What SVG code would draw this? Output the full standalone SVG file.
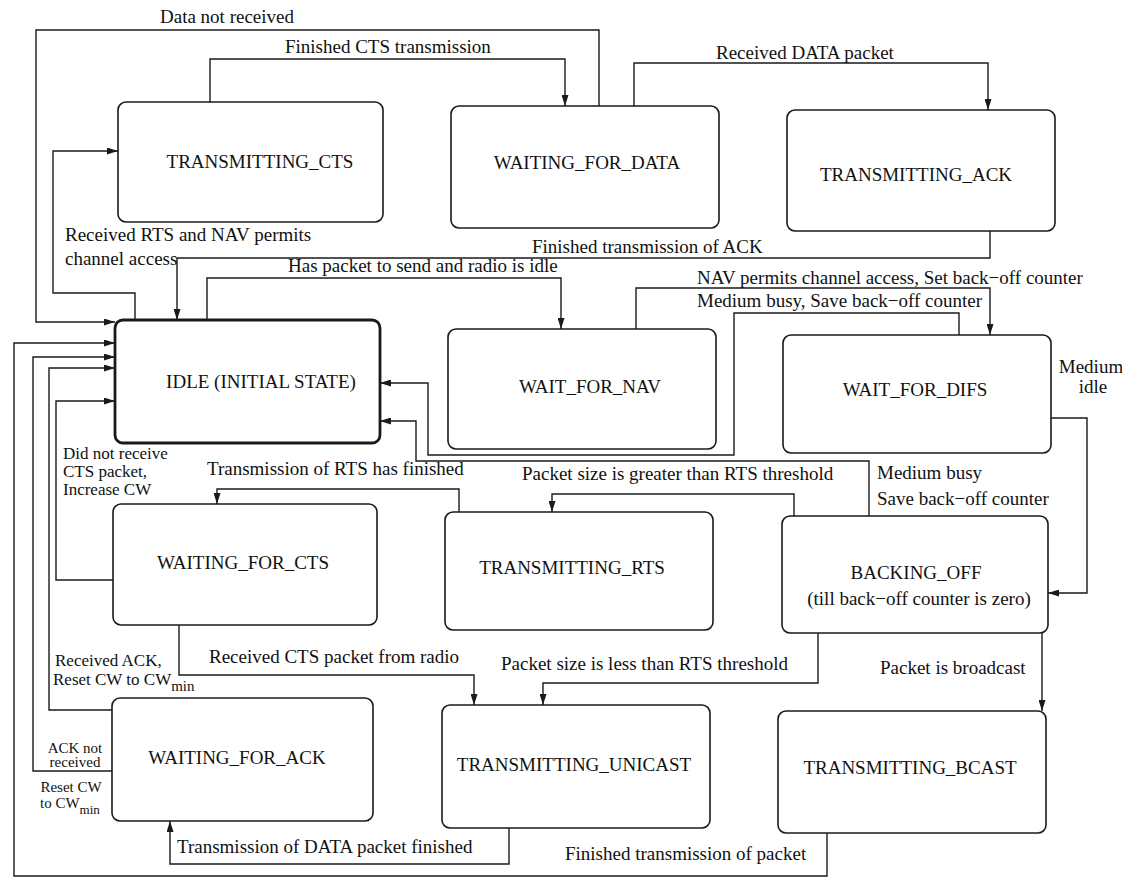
<svg xmlns="http://www.w3.org/2000/svg" width="1122" height="887" viewBox="0 0 1122 887">
<defs>
<marker id="ah" viewBox="0 0 11 7" refX="11" refY="3.5" markerWidth="11" markerHeight="7" orient="auto" markerUnits="userSpaceOnUse">
<path d="M0,0 L11,3.5 L0,7 z" fill="#1a1a1a"/>
</marker>
<style>
.box{fill:#fff;stroke:#1a1a1a;stroke-width:1.6}
.idle{fill:#fff;stroke:#1a1a1a;stroke-width:2.8}
.st{font-family:"Liberation Serif","Times New Roman",serif;font-size:19px;fill:#111;text-anchor:middle}
.lb{font-family:"Liberation Serif","Times New Roman",serif;font-size:19px;fill:#111}
.md{font-family:"Liberation Serif","Times New Roman",serif;font-size:17px;fill:#111}
.sm{font-family:"Liberation Serif","Times New Roman",serif;font-size:15px;fill:#111}
.c{fill:none;stroke:#1a1a1a;stroke-width:1.4;marker-end:url(#ah)}
</style>
</defs>
<rect x="0" y="0" width="1122" height="887" fill="#fff"/>

<g id="connectors">
<polyline class="c" points="599,106 599,30 36,30 36,322 115,322"/>
<polyline class="c" points="210,102 210,59 565,59 565,106"/>
<polyline class="c" points="634,106 634,63 988,63 988,110"/>
<polyline class="c" points="135,320 135,293 53,293 53,151 118,151"/>
<polyline class="c" points="990,231 990,258 177,258 177,320"/>
<polyline class="c" points="207,320 207,278 561,278 561,329"/>
<polyline class="c" points="636,329 636,288 990,288 990,335"/>
<polyline class="c" points="959,335 959,313 734,313 734,455 428,455 428,383 380,383"/>
<polyline class="c" points="1051,418 1087,418 1087,593 1048,593"/>
<polyline class="c" points="869,516 869,461 416,461 416,421 380,421"/>
<polyline class="c" points="794,516 794,494 552,494 552,512"/>
<polyline class="c" points="459,512 459,489 217,489 217,504"/>
<polyline class="c" points="113,580 56,580 56,401 115,401"/>
<polyline class="c" points="179,625 179,675 474,675 474,705"/>
<polyline class="c" points="818,633 818,683 543,683 543,705"/>
<polyline class="c" points="1042,633 1042,711"/>
<polyline class="c" points="112,710 49,710 49,368 115,368"/>
<polyline class="c" points="112,771 33,771 33,357 115,357"/>
<polyline class="c" points="509,828 509,864 170,864 170,821"/>
<polyline class="c" points="827,833 827,876 14,876 14,343 115,343"/>
</g>

<g id="labels">
<text class="lb" x="160" y="23">Data not received</text>
<text class="lb" x="285" y="53">Finished CTS transmission</text>
<text class="lb" x="716" y="59">Received DATA packet</text>
<text class="lb" x="65" y="241">Received RTS and NAV permits</text>
<text class="lb" x="65" y="265">channel access</text>
<text class="lb" x="532" y="253">Finished transmission of ACK</text>
<text class="lb" x="288" y="272">Has packet to send and radio is idle</text>
<text class="lb" x="697" y="284">NAV permits channel access, Set back−off counter</text>
<text class="lb" x="697" y="307">Medium busy, Save back−off counter</text>
<text class="lb" x="1091" y="373" text-anchor="middle">Medium</text>
<text class="lb" x="1093" y="393" text-anchor="middle">idle</text>
<text class="md" x="63" y="459">Did not receive</text>
<text class="md" x="63" y="477">CTS packet,</text>
<text class="md" x="63" y="495">Increase CW</text>
<text class="lb" x="207" y="475">Transmission of RTS has finished</text>
<text class="lb" x="522" y="480">Packet size is greater than RTS threshold</text>
<text class="lb" x="877" y="479">Medium busy</text>
<text class="lb" x="877" y="505">Save back−off counter</text>
<text class="lb" x="209" y="663">Received CTS packet from radio</text>
<text class="lb" x="501" y="670">Packet size is less than RTS threshold</text>
<text class="lb" x="880" y="674">Packet is broadcast</text>
<text class="md" x="55" y="666">Received ACK,</text>
<text class="md" x="53" y="685">Reset CW to CW<tspan font-size="15" dy="6">min</tspan></text>
<text class="sm" x="75" y="753" text-anchor="middle">ACK not</text>
<text class="sm" x="75" y="767" text-anchor="middle">received</text>
<text class="sm" x="71" y="792" text-anchor="middle">Reset CW</text>
<text class="sm" x="40" y="808">to CW<tspan font-size="13" dy="6">min</tspan></text>
<text class="lb" x="177" y="853">Transmission of DATA packet finished</text>
<text class="lb" x="565" y="860">Finished transmission of packet</text>
</g>

<g id="TRANSMITTING_CTS">
<rect class="box" x="118" y="102" width="265" height="120" rx="8"/>
<text class="st" x="260" y="168">TRANSMITTING_CTS</text>
</g>
<g id="WAITING_FOR_DATA">
<rect class="box" x="451" y="106" width="268" height="122" rx="8"/>
<text class="st" x="587" y="169">WAITING_FOR_DATA</text>
</g>
<g id="TRANSMITTING_ACK">
<rect class="box" x="787" y="110" width="268" height="121" rx="8"/>
<text class="st" x="916" y="181">TRANSMITTING_ACK</text>
</g>
<g id="IDLE">
<rect class="idle" x="115" y="320" width="265" height="123" rx="8"/>
<text class="st" x="261" y="388">IDLE (INITIAL STATE)</text>
</g>
<g id="WAIT_FOR_NAV">
<rect class="box" x="448" y="329" width="268" height="120" rx="8"/>
<text class="st" x="590" y="393">WAIT_FOR_NAV</text>
</g>
<g id="WAIT_FOR_DIFS">
<rect class="box" x="783" y="335" width="268" height="118" rx="8"/>
<text class="st" x="915" y="396">WAIT_FOR_DIFS</text>
</g>
<g id="WAITING_FOR_CTS">
<rect class="box" x="113" y="504" width="264" height="121" rx="8"/>
<text class="st" x="243" y="569">WAITING_FOR_CTS</text>
</g>
<g id="TRANSMITTING_RTS">
<rect class="box" x="445" y="512" width="268" height="118" rx="8"/>
<text class="st" x="572" y="574">TRANSMITTING_RTS</text>
</g>
<g id="BACKING_OFF">
<rect class="box" x="782" y="516" width="266" height="117" rx="8"/>
<text class="st" x="916" y="579">BACKING_OFF</text>
<text class="st" x="919" y="605">(till back−off counter is zero)</text>
</g>
<g id="WAITING_FOR_ACK">
<rect class="box" x="112" y="698" width="261" height="123" rx="8"/>
<text class="st" x="237" y="764">WAITING_FOR_ACK</text>
</g>
<g id="TRANSMITTING_UNICAST">
<rect class="box" x="442" y="705" width="268" height="123" rx="8"/>
<text class="st" x="574" y="771">TRANSMITTING_UNICAST</text>
</g>
<g id="TRANSMITTING_BCAST">
<rect class="box" x="778" y="711" width="268" height="122" rx="8"/>
<text class="st" x="910" y="774">TRANSMITTING_BCAST</text>
</g>
</svg>
